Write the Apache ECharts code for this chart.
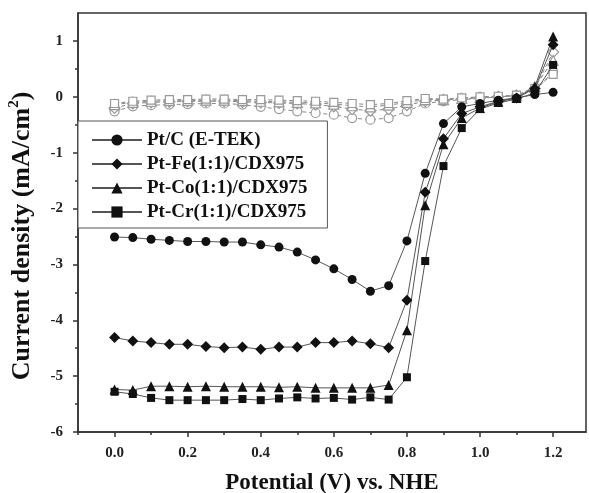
<!DOCTYPE html>
<html>
<head>
<meta charset="utf-8">
<script src="https://cdn.jsdelivr.net/npm/echarts@6/dist/echarts.min.js"></script>
<style>
  body { margin: 0; background: #fff; }
  #chart { width: 589px; height: 493px; }
</style>
</head>
<body>
<div id="chart"></div>
<script>
// potential steps (V vs. NHE)
var potential = [0.00, 0.05, 0.10, 0.15, 0.20, 0.25, 0.30, 0.35, 0.40, 0.45, 0.50, 0.55, 0.60,
                 0.65, 0.70, 0.75, 0.80, 0.85, 0.90, 0.95, 1.00, 1.05, 1.10, 1.15, 1.20];

// cathodic scans (filled markers)
var ptC  = [-2.51, -2.52, -2.55, -2.57, -2.59, -2.59, -2.60, -2.60, -2.65, -2.69, -2.78, -2.92, -3.08,
            -3.27, -3.48, -3.38, -2.58, -1.37, -0.48, -0.18, -0.12, -0.06, -0.02, 0.04, 0.08];
var ptFe = [-4.31, -4.37, -4.40, -4.43, -4.43, -4.47, -4.49, -4.48, -4.52, -4.48, -4.48, -4.40, -4.40,
            -4.37, -4.42, -4.49, -3.64, -1.71, -0.75, -0.30, -0.18, -0.08, -0.02, 0.15, 0.93];
var ptCo = [-5.24, -5.25, -5.18, -5.18, -5.19, -5.18, -5.19, -5.19, -5.19, -5.20, -5.19, -5.21, -5.21,
            -5.21, -5.21, -5.16, -4.18, -1.94, -0.85, -0.38, -0.20, -0.09, -0.02, 0.18, 1.08];
var ptCr = [-5.28, -5.32, -5.39, -5.43, -5.43, -5.43, -5.43, -5.41, -5.43, -5.40, -5.38, -5.40, -5.39,
            -5.42, -5.38, -5.42, -5.02, -2.94, -1.24, -0.56, -0.22, -0.11, -0.04, 0.07, 0.57];

// return scans (open markers)
var ptCRev  = [-0.26, -0.17, -0.15, -0.14, -0.13, -0.12, -0.12, -0.14, -0.18, -0.22, -0.26, -0.29, -0.32,
               -0.38, -0.41, -0.38, -0.26, -0.12, -0.08, -0.05, -0.03, 0.00, 0.02, 0.10, 0.45];
var ptFeRev = [-0.20, -0.12, -0.10, -0.09, -0.08, -0.08, -0.08, -0.09, -0.10, -0.11, -0.12, -0.14, -0.17,
               -0.22, -0.25, -0.22, -0.15, -0.08, -0.06, -0.04, -0.02, 0.00, 0.02, 0.15, 0.80];
var ptCoRev = [-0.14, -0.10, -0.08, -0.07, -0.07, -0.06, -0.06, -0.07, -0.08, -0.09, -0.10, -0.11, -0.13,
               -0.16, -0.18, -0.15, -0.10, -0.05, -0.05, -0.03, -0.01, 0.00, 0.02, 0.18, 0.65];
var ptCrRev = [-0.12, -0.08, -0.06, -0.05, -0.05, -0.04, -0.04, -0.05, -0.05, -0.06, -0.07, -0.08, -0.10,
               -0.12, -0.14, -0.12, -0.07, -0.03, -0.04, -0.02, 0.00, 0.01, 0.03, 0.15, 0.40];

var names = ['Pt/C (E-TEK)', 'Pt-Fe(1:1)/CDX975', 'Pt-Co(1:1)/CDX975', 'Pt-Cr(1:1)/CDX975'];

// tick positions
var xTicks = [0.0, 0.2, 0.4, 0.6, 0.8, 1.0, 1.2];
var xMinor = [-0.1, 0.1, 0.3, 0.5, 0.7, 0.9, 1.1];
var yTicks = [-6, -5, -4, -3, -2, -1, 0, 1];
var yMinor = [-5.5, -4.5, -3.5, -2.5, -1.5, -0.5, 0.5];

var serif = '"Liberation Serif", "Times New Roman", serif';
var axisColor = '#333';

function pairs(ys) {
  return potential.map(function (x, i) { return [x, ys[i]]; });
}

function filled(name, ys, symbol, size) {
  return {
    name: name,
    type: 'line',
    data: pairs(ys),
    symbol: symbol,
    symbolSize: size,
    z: 3,
    lineStyle: { color: '#555', width: 1 },
    itemStyle: { color: '#111', borderColor: '#111', borderWidth: 0 }
  };
}

function open(ys, symbol, size) {
  return {
    name: 'rev',
    type: 'line',
    data: pairs(ys),
    symbol: symbol,
    symbolSize: size,
    z: 2,
    lineStyle: { color: '#888', width: 1, type: [4, 3] },
    itemStyle: { color: '#fff', borderColor: '#999', borderWidth: 1.2 }
  };
}

var chart = echarts.init(document.getElementById('chart'));
chart.setOption({
  animation: false,
  grid: {
    left: 78, right: 3, top: 13, bottom: 61,
    outerBoundsMode: 'none',
    show: true, borderColor: axisColor, borderWidth: 1.5
  },
  legend: {
    data: names,
    orient: 'vertical',
    left: 78, top: 121,
    backgroundColor: '#fff',
    borderColor: '#555', borderWidth: 1,
    padding: [9, 20, 6, 13],
    itemWidth: 50, itemHeight: 14, itemGap: 4,
    textStyle: { fontFamily: serif, fontWeight: 'bold', fontSize: 19, lineHeight: 20, color: '#111' }
  },
  xAxis: [{
    type: 'value', min: -0.1, max: 1.29,
    name: 'Potential (V) vs. NHE',
    nameLocation: 'middle', nameGap: 40,
    nameTextStyle: { fontFamily: serif, fontWeight: 'bold', fontSize: 23, color: '#111' },
    axisLine: { onZero: false, lineStyle: { color: axisColor, width: 1.5 } },
    axisTick: { customValues: xTicks, length: 5, lineStyle: { color: axisColor, width: 1.5 } },
    axisLabel: {
      customValues: xTicks, margin: 14,
      fontFamily: serif, fontWeight: 'bold', fontSize: 15, color: '#222',
      formatter: function (v) { return v.toFixed(1); }
    },
    splitLine: { show: false }
  }, {
    type: 'value', min: -0.1, max: 1.29, position: 'bottom',
    axisLine: { show: false, onZero: false },
    axisTick: { customValues: xMinor, length: 3, lineStyle: { color: axisColor, width: 1.5 } },
    axisLabel: { show: false },
    splitLine: { show: false }
  }],
  yAxis: [{
    type: 'value', min: -6, max: 1.5,
    name: 'Current density (mA/cm{sup|2})',
    nameLocation: 'middle', nameGap: 41,
    nameTextStyle: {
      fontFamily: serif, fontWeight: 'bold', fontSize: 26, color: '#111', lineHeight: 30,
      padding: [0, 27, 0, 0],
      rich: {
        sup: { fontFamily: serif, fontWeight: 'bold', fontSize: 15, lineHeight: 30, verticalAlign: 'top', color: '#111' }
      }
    },
    axisLine: { onZero: false, lineStyle: { color: axisColor, width: 1.5 } },
    axisTick: { customValues: yTicks, length: 5, lineStyle: { color: axisColor, width: 1.5 } },
    axisLabel: {
      customValues: yTicks, margin: 15,
      fontFamily: serif, fontWeight: 'bold', fontSize: 15, color: '#222'
    },
    splitLine: { show: false }
  }, {
    type: 'value', min: -6, max: 1.5, position: 'left',
    axisLine: { show: false, onZero: false },
    axisTick: { customValues: yMinor, length: 3, lineStyle: { color: axisColor, width: 1.5 } },
    axisLabel: { show: false },
    splitLine: { show: false }
  }],
  series: [
    open(ptCRev, 'circle', 9),
    open(ptFeRev, 'diamond', 11),
    open(ptCoRev, 'triangle', 10),
    open(ptCrRev, 'rect', 8),
    filled(names[0], ptC, 'circle', 9),
    filled(names[1], ptFe, 'diamond', 11),
    filled(names[2], ptCo, 'triangle', 10),
    filled(names[3], ptCr, 'rect', 8)
  ]
});
</script>
</body>
</html>
